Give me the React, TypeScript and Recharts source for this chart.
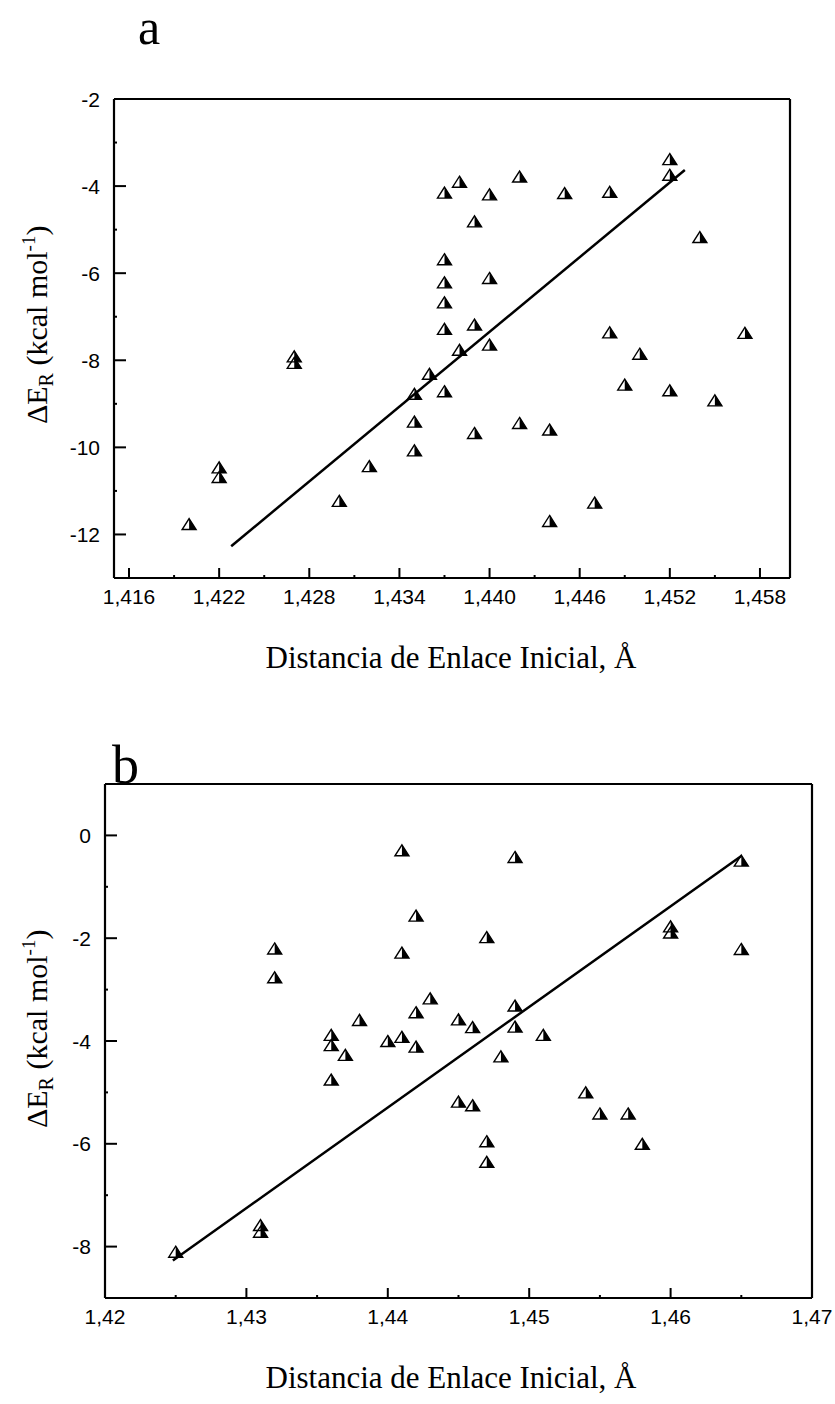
import { ReferenceLine, Scatter, ScatterChart, XAxis, YAxis } from 'recharts';

// panel a
const distA = [
  1.42, 1.422, 1.422, 1.427, 1.427, 1.43, 1.432, 1.435, 1.435, 1.435, 1.436, 1.437, 1.437, 1.437,
  1.437, 1.437, 1.437, 1.438, 1.438, 1.439, 1.439, 1.439, 1.44, 1.44, 1.44, 1.442, 1.442, 1.444,
  1.444, 1.445, 1.447, 1.448, 1.448, 1.449, 1.45, 1.452, 1.452, 1.452, 1.454, 1.455, 1.457,
];
const energyA = [
  -11.76, -10.46, -10.68, -7.91, -8.06, -11.23, -10.43, -8.77, -9.41, -10.07, -8.31, -4.15, -5.68,
  -6.21, -6.67, -7.28, -8.71, -3.9, -7.76, -4.81, -7.18, -9.67, -4.19, -6.11, -7.64, -3.78, -9.44,
  -9.59, -11.69, -4.16, -11.27, -4.13, -7.36, -8.56, -7.85, -3.38, -3.74, -8.69, -5.17, -8.92, -7.37,
];
const fitAX = [1.4228, 1.453];
const fitAY = [-12.27, -3.63];
const xTicksA = [
  1.416, 1.419, 1.422, 1.425, 1.428, 1.431, 1.434, 1.437, 1.44, 1.443, 1.446, 1.449, 1.452, 1.455,
  1.458,
];
const xMajorA = [1.416, 1.422, 1.428, 1.434, 1.44, 1.446, 1.452, 1.458];
const yTicksA = [-12, -11, -10, -9, -8, -7, -6, -5, -4, -3, -2];
const yMajorA = [-12, -10, -8, -6, -4, -2];

// panel b
const distB = [
  1.425, 1.431, 1.431, 1.432, 1.432, 1.436, 1.436, 1.436, 1.437, 1.438, 1.44, 1.441, 1.441, 1.441,
  1.442, 1.442, 1.442, 1.443, 1.445, 1.445, 1.446, 1.446, 1.447, 1.447, 1.447, 1.448, 1.449, 1.449,
  1.449, 1.451, 1.454, 1.455, 1.457, 1.458, 1.46, 1.46, 1.465, 1.465,
];
const energyB = [
  -8.1, -7.58, -7.71, -2.2, -2.76, -3.88, -4.08, -4.75, -4.27, -3.59, -4.0, -0.29, -2.28, -3.92,
  -1.56, -3.44, -4.11, -3.17, -3.58, -5.18, -3.73, -5.25, -1.98, -5.95, -6.35, -4.3, -0.42, -3.31,
  -3.72, -3.88, -5.0, -5.41, -5.41, -6.0, -1.77, -1.89, -0.49, -2.21,
];
const fitBX = [1.4248, 1.465];
const fitBY = [-8.27, -0.4];
const xTicksB = [1.42, 1.425, 1.43, 1.435, 1.44, 1.445, 1.45, 1.455, 1.46, 1.465, 1.47];
const xMajorB = [1.42, 1.43, 1.44, 1.45, 1.46, 1.47];
const yTicksB = [-8, -7, -6, -5, -4, -3, -2, -1, 0];
const yMajorB = [-8, -6, -4, -2, 0];

const SANS = "'Liberation Sans', Arial, sans-serif";
const SERIF = "'Liberation Serif', 'Times New Roman', serif";

const zip = (xs: number[], ys: number[]) => xs.map((x, i) => ({ x, y: ys[i] }));

function HalfTriangle({ cx, cy }: any) {
  if (cx == null || cy == null) return <g />;
  const w = 7;
  const h = 5.5;
  return (
    <g>
      <path d={`M${cx},${cy - h}L${cx + w},${cy + h}L${cx},${cy + h}Z`} fill="#000" />
      <path
        d={`M${cx},${cy - h}L${cx + w},${cy + h}L${cx - w},${cy + h}Z`}
        fill="none"
        stroke="#000"
        strokeWidth={1.4}
        strokeLinejoin="miter"
      />
    </g>
  );
}

function LeftTick({ x, y, payload, majors }: any) {
  const major = majors.includes(payload.value);
  return (
    <g>
      <line x1={x} y1={y} x2={x + (major ? 12 : 3)} y2={y} stroke="#000" strokeWidth={2} />
      {major ? (
        <text x={x - 14} y={y} dy="0.36em" textAnchor="end" fontSize={21} fontFamily={SANS} fill="#000">
          {payload.value}
        </text>
      ) : null}
    </g>
  );
}

function BottomTick({ x, y, payload, majors, digits }: any) {
  const major = majors.includes(payload.value);
  return (
    <g>
      <line x1={x} y1={y} x2={x} y2={y - (major ? 10 : 3)} stroke="#000" strokeWidth={2} />
      {major ? (
        <text x={x} y={y + 11} dy="0.72em" textAnchor="middle" fontSize={21} fontFamily={SANS} fill="#000">
          {payload.value.toFixed(digits).replace('.', ',')}
        </text>
      ) : null}
    </g>
  );
}

function TopTick({ x, y }: any) {
  return <line x1={x} y1={y} x2={x} y2={y + 3} stroke="#000" strokeWidth={1.5} />;
}

function RightTick({ x, y }: any) {
  return <line x1={x} y1={y} x2={x - 3} y2={y} stroke="#000" strokeWidth={1.5} />;
}

function Panel({
  points,
  fit,
  xDomain,
  yDomain,
  xTicks,
  xMajor,
  yTicks,
  yMajor,
  digits,
  height,
  margin,
}: any) {
  return (
    <ScatterChart width={835} height={height} margin={margin}>
      <XAxis
        xAxisId="b"
        type="number"
        dataKey="x"
        domain={xDomain}
        ticks={xTicks}
        interval={0}
        height={1}
        tickSize={0}
        tickMargin={0}
        tickLine={false}
        axisLine={{ stroke: '#000', strokeWidth: 2.2 }}
        tick={(p: any) => <BottomTick {...p} majors={xMajor} digits={digits} />}
      />
      <XAxis
        xAxisId="t"
        orientation="top"
        type="number"
        dataKey="x"
        domain={xDomain}
        ticks={xTicks}
        interval={0}
        height={1}
        tickSize={0}
        tickMargin={0}
        tickLine={false}
        axisLine={{ stroke: '#000', strokeWidth: 1.8 }}
        tick={(p: any) => <TopTick {...p} />}
      />
      <YAxis
        yAxisId="l"
        type="number"
        dataKey="y"
        domain={yDomain}
        ticks={yTicks}
        interval={0}
        width={1}
        tickSize={0}
        tickMargin={0}
        tickLine={false}
        axisLine={{ stroke: '#000', strokeWidth: 2.2 }}
        tick={(p: any) => <LeftTick {...p} majors={yMajor} />}
      />
      <YAxis
        yAxisId="r"
        orientation="right"
        type="number"
        dataKey="y"
        domain={yDomain}
        ticks={yTicks}
        interval={0}
        width={1}
        tickSize={0}
        tickMargin={0}
        tickLine={false}
        axisLine={{ stroke: '#000', strokeWidth: 2.2 }}
        tick={(p: any) => <RightTick {...p} />}
      />
      <ReferenceLine
        xAxisId="b"
        yAxisId="l"
        segment={fit}
        stroke="#000"
        strokeWidth={2.5}
        ifOverflow="visible"
      />
      <Scatter
        xAxisId="b"
        yAxisId="l"
        data={points}
        isAnimationActive={false}
        shape={(p: any) => <HalfTriangle {...p} />}
      />
    </ScatterChart>
  );
}

function YTitle({ x, y }: { x: number; y: number }) {
  return (
    <text transform={`translate(${x}, ${y}) rotate(-90)`} fontSize={30} fontFamily={SERIF} fill="#000">
      ΔE
      <tspan fontSize={20} dy={6}>
        R
      </tspan>
      <tspan dy={-6}> (kcal mol</tspan>
      <tspan fontSize={19} dy={-12}>
        -1
      </tspan>
      <tspan dy={12}>)</tspan>
    </text>
  );
}

export default function App() {
  return (
    <div style={{ position: 'absolute', left: 0, top: 0, width: 835, height: 1404, background: '#fff' }}>
      <div style={{ position: 'absolute', left: 0, top: 0 }}>
        <Panel
          points={zip(distA, energyA)}
          fit={zip(fitAX, fitAY)}
          xDomain={[1.415, 1.46]}
          yDomain={[-13, -2]}
          xTicks={xTicksA}
          xMajor={xMajorA}
          yTicks={yTicksA}
          yMajor={yMajorA}
          digits={3}
          height={700}
          margin={{ top: 98, left: 113, right: 44, bottom: 121 }}
        />
      </div>
      <div style={{ position: 'absolute', left: 0, top: 700 }}>
        <Panel
          points={zip(distB, energyB)}
          fit={zip(fitBX, fitBY)}
          xDomain={[1.42, 1.47]}
          yDomain={[-9, 1]}
          xTicks={xTicksB}
          xMajor={xMajorB}
          yTicks={yTicksB}
          yMajor={yMajorB}
          digits={2}
          height={704}
          margin={{ top: 83, left: 104, right: 22, bottom: 105 }}
        />
      </div>
      <svg
        width={835}
        height={1404}
        style={{ position: 'absolute', left: 0, top: 0, pointerEvents: 'none' }}
      >
        <text x={138} y={44} fontSize={50} fontFamily={SERIF} fill="#000">
          a
        </text>
        <text x={112} y={783} fontSize={54} fontFamily={SERIF} fill="#000">
          b
        </text>
        <YTitle x={47} y={424} />
        <YTitle x={47} y={1128} />
        <text x={451} y={668} textAnchor="middle" fontSize={31} fontFamily={SERIF} fill="#000">
          Distancia de Enlace Inicial, Å
        </text>
        <text x={451} y={1388} textAnchor="middle" fontSize={31} fontFamily={SERIF} fill="#000">
          Distancia de Enlace Inicial, Å
        </text>
      </svg>
    </div>
  );
}
